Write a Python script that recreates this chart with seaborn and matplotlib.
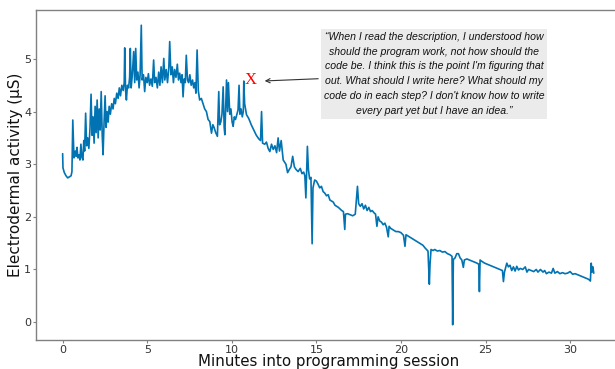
import matplotlib
matplotlib.use("Agg")
import matplotlib.pyplot as plt
import seaborn as sns
import pandas as pd

# Session timeline (minutes) and skin conductance readings (microsiemens)
minutes = [
    0.00, 0.02, 0.10, 0.20, 0.30, 0.40, 0.50, 0.55, 0.60, 0.67, 0.75, 0.80, 0.85, 0.90, 0.97,
    1.02, 1.08, 1.14, 1.20, 1.25, 1.30, 1.36, 1.42, 1.48, 1.55, 1.62, 1.68, 1.74, 1.80, 1.86,
    1.92, 1.98, 2.04, 2.10, 2.16, 2.22, 2.28, 2.34, 2.39, 2.45, 2.51, 2.57, 2.63, 2.69, 2.75,
    2.82, 2.90, 2.98, 3.05, 3.12, 3.20, 3.28, 3.35, 3.42, 3.50, 3.58, 3.64, 3.67, 3.72, 3.77,
    3.83, 3.90, 3.96, 4.00, 4.05, 4.12, 4.20, 4.26, 4.32, 4.38, 4.45, 4.52, 4.58, 4.65, 4.70,
    4.78, 4.85, 4.92, 5.00, 5.07, 5.14, 5.22, 5.30, 5.38, 5.44, 5.52, 5.60, 5.68, 5.75, 5.82,
    5.90, 5.98, 6.04, 6.12, 6.20, 6.28, 6.33, 6.40, 6.48, 6.55, 6.62, 6.70, 6.78, 6.85, 6.92,
    7.00, 7.06, 7.12, 7.18, 7.25, 7.31, 7.38, 7.45, 7.52, 7.60, 7.68, 7.75, 7.82, 7.88, 7.95,
    8.02, 8.10, 8.20, 8.30, 8.40, 8.50, 8.60, 8.70, 8.80, 8.88, 8.95, 9.05, 9.15, 9.23, 9.28,
    9.35, 9.42, 9.49, 9.55, 9.59, 9.69, 9.75, 9.80, 9.88, 9.95, 10.02, 10.08, 10.15, 10.22, 10.30,
    10.37, 10.43, 10.48, 10.55, 10.62, 10.68, 10.71, 10.76, 10.87, 11.00, 11.15, 11.30, 11.45, 11.60, 11.70,
    11.76, 11.82, 11.95, 12.05, 12.15, 12.25, 12.35, 12.45, 12.55, 12.65, 12.74, 12.82, 12.92, 13.04, 13.20,
    13.30, 13.40, 13.50, 13.60, 13.70, 13.80, 13.92, 14.05, 14.15, 14.25, 14.32, 14.38, 14.42, 14.47, 14.53,
    14.60, 14.68, 14.75, 14.80, 14.90, 15.00, 15.10, 15.20, 15.30, 15.40, 15.50, 15.60, 15.70, 15.80, 15.90,
    16.00, 16.10, 16.20, 16.30, 16.40, 16.50, 16.60, 16.68, 16.72, 16.85, 17.00, 17.15, 17.30, 17.43, 17.50,
    17.60, 17.70, 17.80, 17.90, 18.00, 18.10, 18.20, 18.30, 18.40, 18.50, 18.58, 18.65, 18.75, 18.85, 18.95,
    19.05, 19.15, 19.25, 19.30, 19.40, 19.55, 19.70, 19.85, 20.00, 20.15, 20.24, 20.30, 20.50, 20.70, 20.90,
    21.10, 21.30, 21.45, 21.60, 21.68, 21.72, 21.78, 21.90, 22.00, 22.15, 22.30, 22.45, 22.60, 22.75, 22.90,
    23.02, 23.06, 23.10, 23.20, 23.30, 23.40, 23.50, 23.60, 23.69, 23.75, 23.90, 24.05, 24.20, 24.35, 24.50,
    24.60, 24.64, 24.68, 24.80, 24.95, 25.10, 25.25, 25.40, 25.55, 25.70, 25.85, 26.00, 26.06, 26.12, 26.26,
    26.35, 26.45, 26.55, 26.65, 26.75, 26.85, 26.95, 27.05, 27.20, 27.35, 27.45, 27.55, 27.70, 27.85, 28.00,
    28.10, 28.25, 28.40, 28.50, 28.60, 28.75, 28.90, 29.00, 29.10, 29.25, 29.40, 29.55, 29.70, 29.85, 30.00,
    30.15, 30.30, 30.45, 30.60, 30.75, 30.90, 31.05, 31.15, 31.20, 31.25, 31.30, 31.35, 31.40,
]
eda_us = [
    3.20, 2.93, 2.84, 2.78, 2.74, 2.76, 2.78, 2.86, 3.84, 3.12, 3.25, 3.15, 3.32, 3.12, 3.18,
    3.08, 3.38, 3.13, 3.08, 3.45, 3.25, 3.97, 3.35, 3.50, 3.30, 3.70, 4.33, 3.55, 3.90, 3.40,
    4.10, 3.60, 4.22, 3.50, 4.05, 3.65, 4.38, 3.55, 3.18, 3.80, 4.30, 3.70, 4.00, 3.80, 4.10,
    3.95, 4.15, 4.05, 4.25, 4.15, 4.35, 4.25, 4.45, 4.30, 4.50, 4.40, 4.55, 5.21, 4.40, 4.22,
    4.50, 4.45, 4.65, 5.20, 4.45, 4.70, 5.14, 4.55, 5.20, 4.60, 4.75, 4.45, 4.70, 5.64, 4.60,
    4.70, 4.38, 4.65, 4.55, 4.72, 4.50, 4.62, 4.48, 4.98, 4.55, 4.65, 4.45, 4.75, 4.50, 4.85,
    4.55, 5.01, 4.60, 4.80, 4.55, 4.85, 5.33, 4.70, 4.85, 4.55, 4.80, 4.65, 4.90, 4.60, 4.73,
    4.55, 4.70, 4.28, 4.62, 4.55, 5.07, 4.60, 4.55, 4.70, 4.50, 4.60, 4.45, 4.55, 4.35, 5.17,
    4.40, 4.22, 4.25, 4.15, 4.05, 4.00, 3.85, 3.81, 3.59, 3.75, 3.70, 3.60, 3.53, 4.38, 3.75,
    3.80, 3.95, 4.47, 3.70, 3.56, 4.60, 4.00, 4.55, 3.95, 4.05, 3.80, 3.72, 3.90, 3.85, 3.95,
    4.03, 4.50, 3.95, 4.05, 3.90, 4.00, 4.58, 4.15, 3.94, 3.87, 3.75, 3.65, 3.55, 3.48, 3.45,
    4.00, 3.40, 3.38, 3.42, 3.30, 3.24, 3.38, 3.28, 3.35, 3.22, 3.50, 3.25, 3.45, 3.08, 3.00,
    2.84, 2.90, 2.95, 3.15, 2.95, 2.90, 2.86, 2.92, 2.82, 2.85, 2.78, 2.36, 2.80, 3.34, 2.90,
    2.72, 2.75, 1.49, 2.55, 2.70, 2.68, 2.62, 2.55, 2.58, 2.48, 2.45, 2.40, 2.42, 2.32, 2.30,
    2.28, 2.22, 2.20, 2.18, 2.15, 2.12, 2.10, 1.76, 2.05, 2.06, 2.04, 2.02, 2.05, 2.58, 2.25,
    2.20, 2.25, 2.15, 2.22, 2.12, 2.18, 2.10, 2.12, 2.08, 2.05, 1.82, 2.00, 1.92, 1.90, 1.85,
    1.88, 1.80, 1.62, 1.82, 1.78, 1.75, 1.72, 1.72, 1.70, 1.65, 1.44, 1.66, 1.62, 1.58, 1.54,
    1.50, 1.46, 1.40, 1.35, 0.72, 1.10, 1.38, 1.36, 1.38, 1.35, 1.36, 1.33, 1.34, 1.30, 1.28,
    1.25, -0.05, 1.19, 1.22, 1.30, 1.30, 1.22, 1.18, 1.04, 1.18, 1.20, 1.18, 1.16, 1.14, 1.12,
    1.10, 0.58, 1.18, 1.15, 1.12, 1.10, 1.08, 1.06, 1.04, 1.02, 1.00, 0.98, 0.77, 0.95, 1.12,
    1.05, 1.08, 0.98, 1.05, 0.97, 1.06, 0.99, 1.02, 1.00, 1.05, 0.95, 1.00, 0.98, 0.96, 1.00,
    0.95, 1.00, 0.95, 0.98, 0.92, 0.95, 0.93, 1.02, 0.93, 0.96, 0.92, 0.94, 0.92, 0.93, 0.96,
    0.91, 0.92, 0.90, 0.88, 0.86, 0.84, 0.82, 0.80, 0.78, 1.12, 0.95, 1.05, 0.93,
]

quote = ("\u201cWhen I read the description, I understood how\n"
         "should the program work, not how should the\n"
         "code be. I think this is the point I'm figuring that\n"
         "out. What should I write here? What should my\n"
         "code do in each step? I don't know how to write\n"
         "every part yet but I have an idea.\u201d")
marker_time, marker_value = 11.12, 4.60
arrow_target = (11.78, 4.58)
quote_center = (21.95, 4.715)

sns.set_style("white")

df = pd.DataFrame({"minutes": minutes, "eda": eda_us})

fig = plt.figure(figsize=(6.15, 3.69), dpi=100)
ax = fig.add_axes([36 / 615, 29 / 369, 586 / 615, 330 / 369])

sns.lineplot(data=df, x="minutes", y="eda", ax=ax, color="#0173b2",
             linewidth=1.2, estimator=None)

ax.set_xlim(-1.575, 33.07)
ax.set_ylim(-0.34, 5.93)
ax.set_xticks([0, 5, 10, 15, 20, 25, 30])
ax.set_yticks([0, 1, 2, 3, 4, 5])

for side, spine in ax.spines.items():
    spine.set_color("#808080")
    spine.set_linewidth(1.0)

ax.tick_params(axis="both", which="both", length=2.5, width=0.8, color="#808080",
               labelsize=8, labelcolor="#333333", pad=1, bottom=True, left=True)

ax.set_xlabel("Minutes into programming session", fontsize=10.8, color="#111111",
              va="bottom")
ax.xaxis.set_label_coords(0.5, -0.0875)
ax.set_ylabel("Electrodermal activity (\u00b5S)", fontsize=11, color="#111111", labelpad=1)

ax.text(marker_time, marker_value, "X", color="red", fontsize=12,
        family="Liberation Serif", ha="center", va="center")

ax.annotate(quote, xy=arrow_target, xytext=quote_center,
            ha="center", va="center", fontsize=7.6, style="italic",
            family="Liberation Sans", color="#111111", linespacing=1.62,
            bbox=dict(boxstyle="square,pad=0.25", facecolor="#ebebeb", edgecolor="none"),
            arrowprops=dict(arrowstyle="->", color="#333333", lw=0.8))

fig.savefig("out.png", dpi=100)
